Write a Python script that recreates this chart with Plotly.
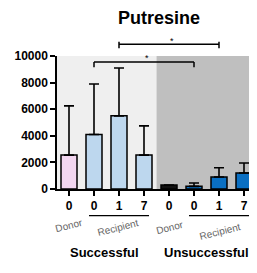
import plotly.graph_objects as go

groups = ["Donor", "Recipient", "Recipient", "Recipient", "Donor", "Recipient", "Recipient", "Recipient"]
days = ["0", "0", "1", "7", "0", "0", "1", "7"]
means = [2550, 4100, 5500, 2550, 300, 200, 900, 1200]
errors = [3700, 3800, 3600, 2200, 0, 250, 700, 750]
colors = ["#f2d6f0", "#bdd7ee", "#bdd7ee", "#bdd7ee", "#111111", "#0a6fc2", "#0a6fc2", "#0a6fc2"]
y_ticks = [0, 2000, 4000, 6000, 8000, 10000]
title = "Putresine"
outcomes = ["Successful", "Unsuccessful"]

xs = list(range(len(means)))
FONT = "Liberation Sans, Arial, sans-serif"

fig = go.Figure()
fig.add_trace(go.Bar(
    x=xs, y=means, width=0.64,
    marker=dict(color=colors, line=dict(color="black", width=1.5)),
    error_y=dict(type="data", array=errors, symmetric=False, arrayminus=[0]*8,
                 color="black", thickness=1.6, width=5),
    cliponaxis=False,
))

shapes = [
    dict(type="rect", xref="x", yref="y", x0=-0.48, x1=3.5, y0=0, y1=10000,
         fillcolor="#efefef", line_width=0, layer="below"),
    dict(type="rect", xref="x", yref="y", x0=3.5, x1=7.52, y0=0, y1=10000,
         fillcolor="#bfbfbf", line_width=0, layer="below"),
]

def bracket(xa, xb, y, y_lo, y_hi):
    return [
        dict(type="line", xref="x", yref="paper", x0=xa, x1=xb, y0=y, y1=y,
             line=dict(color="black", width=1.5)),
        dict(type="line", xref="x", yref="paper", x0=xa, x1=xa, y0=y_lo, y1=y_hi,
             line=dict(color="black", width=1.5)),
        dict(type="line", xref="x", yref="paper", x0=xb, x1=xb, y0=y_lo, y1=y_hi,
             line=dict(color="black", width=1.5)),
    ]
shapes += bracket(1, 5, 0.955, 0.915, 0.955)
shapes += bracket(2, 6, 1.088, 1.058, 1.108)
shapes += [
    dict(type="line", xref="x", yref="paper", x0=0.8, x1=3.2, y0=-0.2, y1=-0.2,
         line=dict(color="black", width=1.2)),
    dict(type="line", xref="x", yref="paper", x0=4.8, x1=7.2, y0=-0.2, y1=-0.2,
         line=dict(color="black", width=1.2)),
]

def note(text, xref, x, y, size, color="black", angle=0):
    return dict(text=text, xref=xref, yref="paper", x=x, y=y, showarrow=False,
                xanchor="center", yanchor="middle", textangle=angle,
                font=dict(size=size, family=FONT, color=color))

ann = [
    note("<b>" + title + "</b>", "paper", 0.51, 1.285, 18),
    note("*", "x", 3.1, 0.985, 9),
    note("*", "x", 4.1, 1.113, 9),
    note("Donor", "x", 0.0, -0.271, 10, "#666", -14),
    note("Recipient", "x", 1.96, -0.289, 10, "#666", -14),
    note("Donor", "x", 4.04, -0.293, 10, "#666", -14),
    note("Recipient", "x", 6.04, -0.316, 10, "#666", -14),
    note("<b>" + outcomes[0] + "</b>", "x", 1.4, -0.474, 13),
    note("<b>" + outcomes[1] + "</b>", "x", 5.48, -0.474, 13),
]

# page body has an 8px default margin, so the figure is sized to fit the window
fig.update_layout(
    width=249, height=265,
    margin=dict(l=49, r=0, t=48, b=84, autoexpand=False),
    paper_bgcolor="white", plot_bgcolor="white",
    showlegend=False,
    shapes=shapes, annotations=ann,
    font=dict(family=FONT, color="black"),
)
fig.update_xaxes(
    range=[-0.48, 7.52], tickmode="array", tickvals=xs,
    ticktext=["<b>" + d + "</b>" for d in days],
    ticks="outside", ticklen=5, tickwidth=1.5, tickcolor="black",
    showline=True, linecolor="black", linewidth=1.5,
    showgrid=False, zeroline=False, tickfont=dict(size=12, color="black"),
)
fig.update_yaxes(
    range=[0, 10000], tickmode="array", tickvals=y_ticks,
    ticktext=["<b>" + str(v) + "</b>" for v in y_ticks],
    ticks="outside", ticklen=5, tickwidth=1.5, tickcolor="black",
    showline=True, linecolor="black", linewidth=1.5,
    showgrid=False, zeroline=False, tickfont=dict(size=12, color="black"),
)

fig.write_html("out.html")
